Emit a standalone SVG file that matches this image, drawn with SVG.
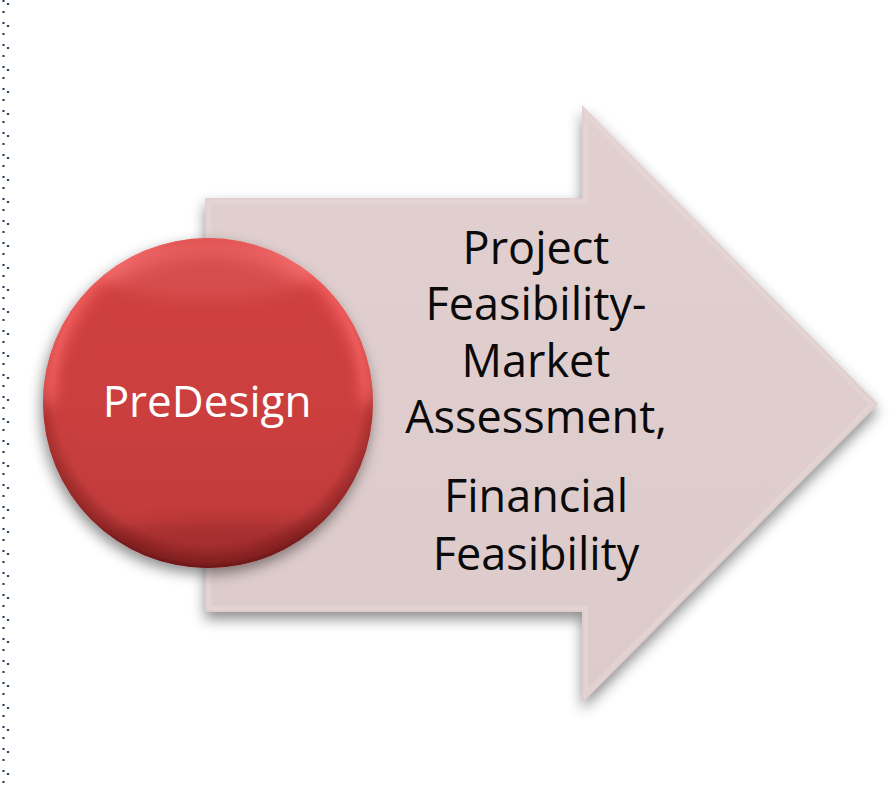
<svg xmlns="http://www.w3.org/2000/svg" width="894" height="792" viewBox="0 0 894 792">
  <style>
    .lbl { font-family: "Open Sans", "Liberation Sans", sans-serif; font-size: 45px; fill: #0a0a0a; text-anchor: middle; }
    .wlbl { font-family: "Open Sans", "Liberation Sans", sans-serif; font-size: 44px; fill: #ffffff; text-anchor: middle; }
  </style>
  <defs>
    <filter id="shadow" x="-20%" y="-20%" width="140%" height="140%">
      <feDropShadow dx="0" dy="7" stdDeviation="7" flood-color="#000" flood-opacity="0.45"/>
    </filter>
    <filter id="cshadow" x="-20%" y="-20%" width="140%" height="140%">
      <feDropShadow dx="-2" dy="6" stdDeviation="7" flood-color="#000" flood-opacity="0.45"/>
    </filter>
    <filter id="soft" x="-20%" y="-20%" width="140%" height="140%">
      <feGaussianBlur stdDeviation="8"/>
    </filter>
    <clipPath id="ballClip">
      <circle cx="208" cy="403" r="165"/>
    </clipPath>
    <linearGradient id="arrowFill" x1="0" y1="0" x2="0" y2="1">
      <stop offset="0" stop-color="#e2d0d0"/>
      <stop offset="1" stop-color="#ddcaca"/>
    </linearGradient>
    <linearGradient id="ballBase" x1="0" y1="0" x2="0" y2="1">
      <stop offset="0" stop-color="#d64545"/>
      <stop offset="0.5" stop-color="#cc3f3f"/>
      <stop offset="1" stop-color="#ad3434"/>
    </linearGradient>
    <radialGradient id="ballEdge" cx="0.5" cy="0.46" r="0.54">
      <stop offset="0.87" stop-color="#5a0e0e" stop-opacity="0"/>
      <stop offset="0.97" stop-color="#5a0e0e" stop-opacity="0.4"/>
      <stop offset="1" stop-color="#4a0a0a" stop-opacity="0.65"/>
    </radialGradient>
  </defs>

  <!-- left dotted border -->
  <line x1="3.5" y1="0" x2="3.5" y2="792" stroke="#2f4260" stroke-width="2.2" stroke-dasharray="2 9"/>
  <line x1="8" y1="3" x2="8" y2="792" stroke="#2f4260" stroke-width="2.2" stroke-dasharray="2 20"/>

  <g id="arrow">
    <path d="M205,198 H582 V105 L878,404 L582,703 V612 H205 Z" fill="url(#arrowFill)" filter="url(#shadow)"/>
    <path d="M209,202 H586 V114 L872,404 L586,694 V608 H209 Z" fill="none" stroke="#e6d6d6" stroke-width="5" stroke-opacity="0.7"/>
    <text class="lbl" x="536" y="264">Project</text>
    <text class="lbl" x="536" y="320">Feasibility-</text>
    <text class="lbl" x="536" y="377">Market</text>
    <text class="lbl" x="536" y="433">Assessment,</text>
    <text class="lbl" x="536" y="512">Financial</text>
    <text class="lbl" x="536" y="570">Feasibility</text>
  </g>

  <g id="predesign">
    <circle cx="208" cy="403" r="165" fill="url(#ballBase)" filter="url(#cshadow)"/>
    <g clip-path="url(#ballClip)">
      <!-- top highlight band -->
      <path d="M30,403 A178,178 0 0 1 386,403 L360,403 A152,170 0 0 0 56,403 Z" fill="#ff6b6b" opacity="0.85" filter="url(#soft)"/>
      <ellipse cx="208" cy="270" rx="110" ry="30" fill="#ff8080" opacity="0.5" filter="url(#soft)"/>
      <!-- inner body -->
      <ellipse cx="208" cy="405" rx="150" ry="150" fill="#cb4040" opacity="0.6" filter="url(#soft)"/>
      <!-- lower darkening -->
      <ellipse cx="230" cy="560" rx="170" ry="40" fill="#7a1a1a" opacity="0.35" filter="url(#soft)"/>
    </g>
    <circle cx="208" cy="403" r="165" fill="url(#ballEdge)"/>
    <text class="wlbl" x="207" y="417">PreDesign</text>
  </g>
</svg>
